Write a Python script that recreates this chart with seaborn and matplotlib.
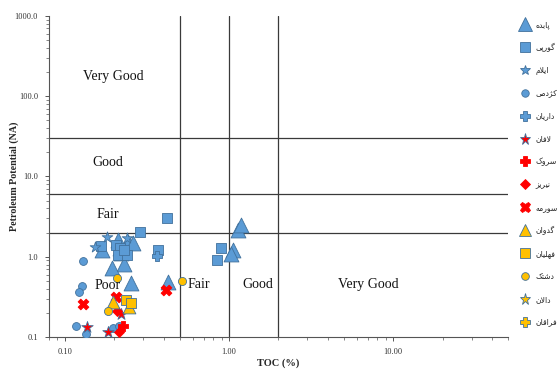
import numpy as np
import pandas as pd
import matplotlib
matplotlib.use("Agg")
import matplotlib.pyplot as plt
from matplotlib.lines import Line2D
from matplotlib.ticker import LogLocator, NullFormatter
import seaborn as sns

sns.set_theme(style="white")
plt.rcParams["font.family"] = ["Liberation Serif", "DejaVu Serif"]

# ---------------------------------------------------------------- data
formations = ["پابده", "گورپی", "ایلام", "کژدمی", "داریان", "لافان", "سروک",
              "نیریز", "سورمه", "گدوان", "فهلیان", "دشتک", "دالان", "فراقان"]

pabdeh_toc = [0.168, 0.211, 0.219, 0.242, 0.260, 0.215, 0.229, 0.194, 0.252, 0.425, 1.13, 1.18, 1.06, 1.03]
pabdeh_pp = [1.22, 1.63, 1.12, 1.54, 1.49, 1.30, 0.818, 0.730, 0.474, 0.488, 2.17, 2.50, 1.22, 1.08]
gurpi_toc = [0.419, 0.286, 0.369, 0.894, 0.845, 0.205, 0.216, 0.211, 0.239, 0.229, 0.165]
gurpi_pp = [3.06, 2.05, 1.22, 1.29, 0.917, 1.41, 1.29, 1.06, 1.06, 1.22, 1.35]
ilam_toc = [0.180, 0.152, 0.239]
ilam_pp = [1.77, 1.33, 1.72]
kazhdumi_toc = [0.129, 0.127, 0.122, 0.117, 0.134, 0.196, 0.213]
kazhdumi_pp = [0.891, 0.435, 0.367, 0.138, 0.110, 0.131, 0.136]
dariyan_toc = [0.364]
dariyan_pp = [1.03]
laffan_toc = [0.136, 0.183, 0.219]
laffan_pp = [0.134, 0.116, 0.195]
sarvak_toc = [0.226]
sarvak_pp = [0.138]
neyriz_toc = [0.207, 0.213]
neyriz_pp = [0.213, 0.116]
surmeh_toc = [0.129, 0.205, 0.413]
surmeh_pp = [0.260, 0.318, 0.388]
gadvan_toc = [0.196, 0.245]
gadvan_pp = [0.275, 0.238]
fahliyan_toc = [0.235, 0.252]
fahliyan_pp = [0.291, 0.267]
dashtak_toc = [0.208, 0.183, 0.517]
dashtak_pp = [0.548, 0.213, 0.502]
dalan_toc, dalan_pp = [], []
faraghan_toc, faraghan_pp = [], []

toc_values = [pabdeh_toc, gurpi_toc, ilam_toc, kazhdumi_toc, dariyan_toc, laffan_toc, sarvak_toc,
              neyriz_toc, surmeh_toc, gadvan_toc, fahliyan_toc, dashtak_toc, dalan_toc, faraghan_toc]
pp_values = [pabdeh_pp, gurpi_pp, ilam_pp, kazhdumi_pp, dariyan_pp, laffan_pp, sarvak_pp,
             neyriz_pp, surmeh_pp, gadvan_pp, fahliyan_pp, dashtak_pp, dalan_pp, faraghan_pp]

toc_bounds = [0.5, 1.0, 2.0]
pp_bounds = [2.0, 6.0, 30.0]
y_ticks = [0.1, 1, 10, 100, 1000]
y_tick_labels = ["0.1", "1.0", "10.0", "100.0", "1000.0"]
x_ticks = [0.1, 1, 10]
x_tick_labels = ["0.10", "1.00", "10.00"]

# ---------------------------------------------------------------- styles
BLUE, RED, YEL = "#5B9BD5", "#FF0000", "#FFC000"
EDGE = "#41719C"
styles = [
    dict(marker="^", color=BLUE, s=115, ec=EDGE),
    dict(marker="s", color=BLUE, s=50, ec=EDGE),
    dict(marker="*", color=BLUE, s=65, ec=EDGE),
    dict(marker="o", color=BLUE, s=32, ec=EDGE),
    dict(marker="P", color=BLUE, s=50, ec=EDGE),
    dict(marker="*", color=RED, s=75, ec=EDGE),
    dict(marker="P", color=RED, s=50, ec=RED),
    dict(marker="D", color=RED, s=26, ec=RED),
    dict(marker="X", color=RED, s=60, ec=RED),
    dict(marker="^", color=YEL, s=85, ec=EDGE),
    dict(marker="s", color=YEL, s=50, ec=EDGE),
    dict(marker="o", color=YEL, s=34, ec=EDGE),
    dict(marker="*", color=YEL, s=75, ec=EDGE),
    dict(marker="P", color=YEL, s=50, ec=EDGE),
]

# ---------------------------------------------------------------- Persian shaping
# (isolated, final, initial, medial) presentation forms
FORMS = {
    "ا": ("\uFE8D", "\uFE8E", None, None),
    "ب": ("\uFE8F", "\uFE90", "\uFE91", "\uFE92"),
    "پ": ("\uFB56", "\uFB57", "\uFB58", "\uFB59"),
    "ت": ("\uFE95", "\uFE96", "\uFE97", "\uFE98"),
    "د": ("\uFEA9", "\uFEAA", None, None),
    "ر": ("\uFEAD", "\uFEAE", None, None),
    "ز": ("\uFEAF", "\uFEB0", None, None),
    "ژ": ("\uFB8A", "\uFB8B", None, None),
    "س": ("\uFEB1", "\uFEB2", "\uFEB3", "\uFEB4"),
    "ش": ("\uFEB5", "\uFEB6", "\uFEB7", "\uFEB8"),
    "ف": ("\uFED1", "\uFED2", "\uFED3", "\uFED4"),
    "ق": ("\uFED5", "\uFED6", "\uFED7", "\uFED8"),
    "ک": ("\uFB8E", "\uFB8F", "\uFB90", "\uFB91"),
    "گ": ("\uFB92", "\uFB93", "\uFB94", "\uFB95"),
    "ل": ("\uFEDD", "\uFEDE", "\uFEDF", "\uFEE0"),
    "م": ("\uFEE1", "\uFEE2", "\uFEE3", "\uFEE4"),
    "ن": ("\uFEE5", "\uFEE6", "\uFEE7", "\uFEE8"),
    "ه": ("\uFEE9", "\uFEEA", "\uFEEB", "\uFEEC"),
    "و": ("\uFEED", "\uFEEE", None, None),
    "ی": ("\uFBFC", "\uFBFD", "\uFBFE", "\uFBFF"),
}
LAM_ALEF = ("\uFEFB", "\uFEFC")


def dual(ch):
    return ch in FORMS and FORMS[ch][2] is not None


def shape(word):
    out = []
    i = 0
    n = len(word)
    while i < n:
        ch = word[i]
        prev_joins = i > 0 and dual(word[i - 1])
        if ch == "ل" and i + 1 < n and word[i + 1] == "ا":
            out.append(LAM_ALEF[1] if prev_joins else LAM_ALEF[0])
            i += 2
            continue
        if ch not in FORMS:
            out.append(ch)
            i += 1
            continue
        next_joins = dual(ch) and i + 1 < n and word[i + 1] in FORMS
        iso, fin, ini, med = FORMS[ch]
        if prev_joins and next_joins:
            out.append(med)
        elif prev_joins:
            out.append(fin)
        elif next_joins:
            out.append(ini)
        else:
            out.append(iso)
        i += 1
    return "".join(reversed(out))


# ---------------------------------------------------------------- figure
fig = plt.figure(figsize=(5.59, 3.69), dpi=100)
ax = fig.add_axes([0.0877, 0.0867, 0.821, 0.870])

rows = []
for name, xs, ys in zip(formations, toc_values, pp_values):
    for x, y in zip(xs, ys):
        rows.append((name, x, y))
df = pd.DataFrame(rows, columns=["formation", "TOC", "PP"])

for name, st in zip(formations, styles):
    sub = df[df["formation"] == name]
    if sub.empty:
        continue
    sns.scatterplot(data=sub, x="TOC", y="PP", ax=ax, marker=st["marker"],
                    color=st["color"], s=st["s"], edgecolor=st["ec"],
                    linewidth=0.6, zorder=3, legend=False)

ax.set_xscale("log")
ax.set_yscale("log")
ax.set_xlim(0.08, 50)
ax.set_ylim(0.1, 1000)

line_kw = dict(color="#3a3a3a", lw=0.9, zorder=2)
for v in toc_bounds:
    ax.axvline(v, **line_kw)
for h in pp_bounds:
    ax.axhline(h, **line_kw)

txt_kw = dict(fontsize=10, ha="center", va="center", color="#111111", zorder=4)
ax.text(0.196, 174, "Very Good", **txt_kw)
ax.text(0.183, 14.8, "Good", **txt_kw)
ax.text(0.183, 3.33, "Fair", **txt_kw)
ax.text(0.183, 0.435, "Poor", **txt_kw)
ax.text(0.656, 0.448, "Fair", **txt_kw)
ax.text(1.50, 0.448, "Good", **txt_kw)
ax.text(7.05, 0.448, "Very Good", **txt_kw)

for side in ["top", "right"]:
    ax.spines[side].set_visible(False)
for side in ["left", "bottom"]:
    ax.spines[side].set_color("#555555")
    ax.spines[side].set_linewidth(0.8)

ax.set_yticks(y_ticks, y_tick_labels)
ax.set_xticks(x_ticks, x_tick_labels)
ax.yaxis.set_minor_locator(LogLocator(base=10, subs=np.arange(2, 10), numticks=20))
ax.xaxis.set_minor_locator(LogLocator(base=10, subs=np.arange(2, 10), numticks=20))
ax.xaxis.set_minor_formatter(NullFormatter())
ax.yaxis.set_minor_formatter(NullFormatter())
ax.tick_params(which="major", direction="out", length=3, width=0.7, color="#555555",
               labelsize=6, labelcolor="#333333", left=True, bottom=True, pad=5)
ax.tick_params(which="minor", direction="out", length=2, width=0.5, color="#555555",
               left=True, bottom=True)
ax.grid(False)

ax.set_xlabel("TOC (%)", fontsize=7.5, fontweight="bold", va="center")
ax.set_ylabel("Petroleum Potential (NA)", fontsize=7.2, fontweight="bold", va="center")
ax.xaxis.set_label_coords(0.5, -0.081)
ax.yaxis.set_label_coords(-0.076, 0.5)

handles = []
for st in styles:
    handles.append(Line2D([], [], linestyle="none", marker=st["marker"],
                          markerfacecolor=st["color"], markeredgecolor=st["ec"],
                          markeredgewidth=0.6, markersize=np.sqrt(st["s"]) * 0.95))
leg = fig.legend(handles, [shape(f) for f in formations], loc="upper left",
                 bbox_to_anchor=(0.927, 0.955), frameon=False,
                 prop={"family": "DejaVu Sans", "size": 5.5},
                 labelspacing=1.82, handlelength=1.0, handletextpad=0.9,
                 borderaxespad=0.0)

fig.savefig("out.png", dpi=100)
